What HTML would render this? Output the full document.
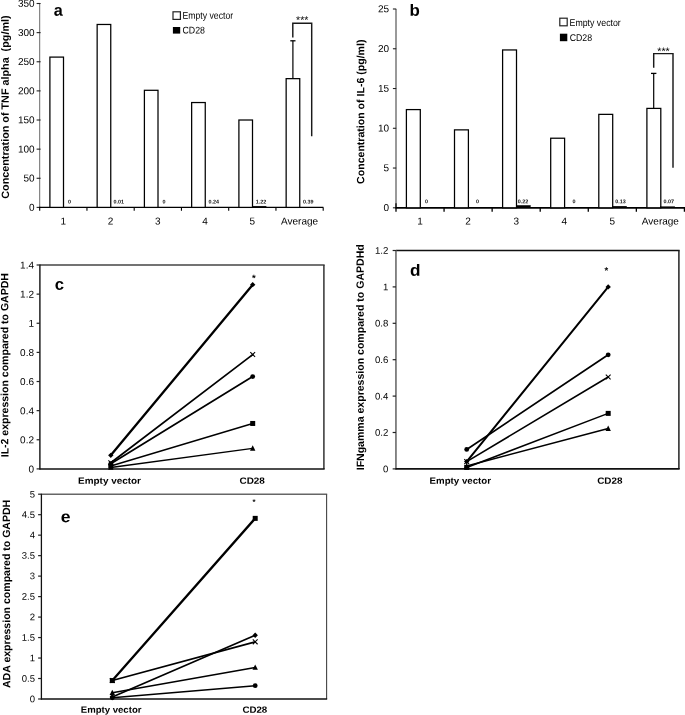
<!DOCTYPE html>
<html lang="en">
<head>
<meta charset="utf-8">
<title>Figure</title>
<style>
html,body{margin:0;padding:0;background:#fff;}
body{width:685px;height:715px;overflow:hidden;}
svg{display:block;}
svg text{font-family:"Liberation Sans",Arial,Helvetica,sans-serif;}
</style>
</head>
<body>
<svg width="685" height="715" viewBox="0 0 685 715">
<rect x="0" y="0" width="685" height="715" fill="#fff"/>
<line x1="39.70" y1="3.50" x2="39.70" y2="207.90" stroke="#444" stroke-width="0.8" />
<line x1="36.60" y1="207.40" x2="40.60" y2="207.40" stroke="#222" stroke-width="1.1" />
<text transform="translate(34.60,210.70) rotate(0.05)" font-size="10.0" text-anchor="end" font-weight="normal" fill="#000">0</text>
<line x1="36.60" y1="178.27" x2="40.60" y2="178.27" stroke="#222" stroke-width="1.1" />
<text transform="translate(34.60,181.57) rotate(0.05)" font-size="10.0" text-anchor="end" font-weight="normal" fill="#000">50</text>
<line x1="36.60" y1="149.14" x2="40.60" y2="149.14" stroke="#222" stroke-width="1.1" />
<text transform="translate(34.60,152.44) rotate(0.05)" font-size="10.0" text-anchor="end" font-weight="normal" fill="#000">100</text>
<line x1="36.60" y1="120.01" x2="40.60" y2="120.01" stroke="#222" stroke-width="1.1" />
<text transform="translate(34.60,123.31) rotate(0.05)" font-size="10.0" text-anchor="end" font-weight="normal" fill="#000">150</text>
<line x1="36.60" y1="90.89" x2="40.60" y2="90.89" stroke="#222" stroke-width="1.1" />
<text transform="translate(34.60,94.19) rotate(0.05)" font-size="10.0" text-anchor="end" font-weight="normal" fill="#000">200</text>
<line x1="36.60" y1="61.76" x2="40.60" y2="61.76" stroke="#222" stroke-width="1.1" />
<text transform="translate(34.60,65.06) rotate(0.05)" font-size="10.0" text-anchor="end" font-weight="normal" fill="#000">250</text>
<line x1="36.60" y1="32.63" x2="40.60" y2="32.63" stroke="#222" stroke-width="1.1" />
<text transform="translate(34.60,35.93) rotate(0.05)" font-size="10.0" text-anchor="end" font-weight="normal" fill="#000">300</text>
<line x1="36.60" y1="3.50" x2="40.60" y2="3.50" stroke="#222" stroke-width="1.1" />
<text transform="translate(34.60,6.80) rotate(0.05)" font-size="10.0" text-anchor="end" font-weight="normal" fill="#000">350</text>
<line x1="39.20" y1="207.40" x2="323.40" y2="207.40" stroke="#000" stroke-width="1.3" />
<line x1="39.70" y1="207.40" x2="39.70" y2="210.80" stroke="#000" stroke-width="1.1" />
<line x1="86.95" y1="207.40" x2="86.95" y2="210.80" stroke="#000" stroke-width="1.1" />
<line x1="134.20" y1="207.40" x2="134.20" y2="210.80" stroke="#000" stroke-width="1.1" />
<line x1="181.45" y1="207.40" x2="181.45" y2="210.80" stroke="#000" stroke-width="1.1" />
<line x1="228.70" y1="207.40" x2="228.70" y2="210.80" stroke="#000" stroke-width="1.1" />
<line x1="275.95" y1="207.40" x2="275.95" y2="210.80" stroke="#000" stroke-width="1.1" />
<line x1="323.20" y1="207.40" x2="323.20" y2="210.80" stroke="#000" stroke-width="1.1" />
<text transform="translate(63.33,224.40) rotate(0.05)" font-size="10.0" text-anchor="middle" font-weight="normal" fill="#000">1</text>
<text transform="translate(110.58,224.40) rotate(0.05)" font-size="10.0" text-anchor="middle" font-weight="normal" fill="#000">2</text>
<text transform="translate(157.82,224.40) rotate(0.05)" font-size="10.0" text-anchor="middle" font-weight="normal" fill="#000">3</text>
<text transform="translate(205.07,224.40) rotate(0.05)" font-size="10.0" text-anchor="middle" font-weight="normal" fill="#000">4</text>
<text transform="translate(252.32,224.40) rotate(0.05)" font-size="10.0" text-anchor="middle" font-weight="normal" fill="#000">5</text>
<text transform="translate(299.57,224.40) rotate(0.05)" font-size="10.0" text-anchor="middle" font-weight="normal" fill="#000">Average</text>
<rect x="49.90" y="57.10" width="13.60" height="150.30" fill="#fff" stroke="#000" stroke-width="1.25"/>
<text transform="translate(68.10,203.60) rotate(0.05)" font-size="5.4" text-anchor="start" font-weight="bold" fill="#111">0</text>
<rect x="97.15" y="24.47" width="13.60" height="182.93" fill="#fff" stroke="#000" stroke-width="1.25"/>
<text transform="translate(113.55,203.60) rotate(0.05)" font-size="5.4" text-anchor="start" font-weight="bold" fill="#111">0.01</text>
<rect x="144.40" y="90.30" width="13.60" height="117.10" fill="#fff" stroke="#000" stroke-width="1.25"/>
<text transform="translate(162.60,203.60) rotate(0.05)" font-size="5.4" text-anchor="start" font-weight="bold" fill="#111">0</text>
<rect x="191.65" y="102.54" width="13.60" height="104.86" fill="#fff" stroke="#000" stroke-width="1.25"/>
<text transform="translate(208.45,203.60) rotate(0.05)" font-size="5.4" text-anchor="start" font-weight="bold" fill="#111">0.24</text>
<rect x="238.90" y="120.01" width="13.60" height="87.39" fill="#fff" stroke="#000" stroke-width="1.25"/>
<rect x="252.50" y="206.18" width="13.60" height="1.22" fill="#000" stroke="#000" stroke-width="0.4"/>
<text transform="translate(255.70,203.60) rotate(0.05)" font-size="5.4" text-anchor="start" font-weight="bold" fill="#111">1.22</text>
<rect x="286.15" y="78.65" width="13.60" height="128.75" fill="#fff" stroke="#000" stroke-width="1.25"/>
<text transform="translate(302.95,203.60) rotate(0.05)" font-size="5.4" text-anchor="start" font-weight="bold" fill="#111">0.39</text>
<line x1="292.90" y1="40.80" x2="292.90" y2="78.60" stroke="#000" stroke-width="1.2" />
<line x1="290.30" y1="40.80" x2="295.50" y2="40.80" stroke="#000" stroke-width="1.3" />
<polyline points="292.80,37.50 292.80,23.20 311.70,23.20 311.70,136.30" fill="none" stroke="#1a1a1a" stroke-width="1.45"/>
<text transform="translate(302.30,23.60) rotate(0.05)" font-size="10.6" text-anchor="middle" font-weight="normal" fill="#000">***</text>
<rect x="173.00" y="11.80" width="7.40" height="7.60" fill="#fff" stroke="#222" stroke-width="1.2"/>
<rect x="172.90" y="27.00" width="7.30" height="6.60" fill="#000"/>
<text transform="translate(182.46,18.80) rotate(0.05)" font-size="9.8" text-anchor="start" font-weight="normal" fill="#000" textLength="50.7" lengthAdjust="spacingAndGlyphs">Empty vector</text>
<text transform="translate(182.46,33.60) rotate(0.05)" font-size="9.8" text-anchor="start" font-weight="normal" fill="#000" textLength="22.5" lengthAdjust="spacingAndGlyphs">CD28</text>
<text transform="translate(53.63,15.70) rotate(0.05)" font-size="16.4" text-anchor="start" font-weight="bold" fill="#000" textLength="9.0" lengthAdjust="spacingAndGlyphs">a</text>
<text transform="translate(8.80,107.10) rotate(-90.05)" font-size="10.6" text-anchor="middle" font-weight="bold" textLength="183.3" lengthAdjust="spacingAndGlyphs">Concentration of TNF alpha&#160; (pg/ml)</text>
<line x1="396.00" y1="9.00" x2="396.00" y2="208.30" stroke="#555" stroke-width="1.2" />
<line x1="392.90" y1="207.80" x2="396.20" y2="207.80" stroke="#222" stroke-width="1.1" />
<text transform="translate(389.00,211.10) rotate(0.05)" font-size="10.0" text-anchor="end" font-weight="normal" fill="#000">0</text>
<line x1="392.90" y1="168.04" x2="396.20" y2="168.04" stroke="#222" stroke-width="1.1" />
<text transform="translate(389.00,171.34) rotate(0.05)" font-size="10.0" text-anchor="end" font-weight="normal" fill="#000">5</text>
<line x1="392.90" y1="128.28" x2="396.20" y2="128.28" stroke="#222" stroke-width="1.1" />
<text transform="translate(389.00,131.58) rotate(0.05)" font-size="10.0" text-anchor="end" font-weight="normal" fill="#000">10</text>
<line x1="392.90" y1="88.52" x2="396.20" y2="88.52" stroke="#222" stroke-width="1.1" />
<text transform="translate(389.00,91.82) rotate(0.05)" font-size="10.0" text-anchor="end" font-weight="normal" fill="#000">15</text>
<line x1="392.90" y1="48.76" x2="396.20" y2="48.76" stroke="#222" stroke-width="1.1" />
<text transform="translate(389.00,52.06) rotate(0.05)" font-size="10.0" text-anchor="end" font-weight="normal" fill="#000">20</text>
<line x1="392.90" y1="9.00" x2="396.20" y2="9.00" stroke="#222" stroke-width="1.1" />
<text transform="translate(389.00,12.30) rotate(0.05)" font-size="10.0" text-anchor="end" font-weight="normal" fill="#000">25</text>
<line x1="395.50" y1="207.80" x2="685.00" y2="207.80" stroke="#000" stroke-width="1.7" />
<line x1="396.00" y1="203.30" x2="396.00" y2="207.80" stroke="#000" stroke-width="1.2" />
<line x1="396.00" y1="207.80" x2="396.00" y2="211.70" stroke="#000" stroke-width="1.3" />
<line x1="444.07" y1="207.80" x2="444.07" y2="211.70" stroke="#000" stroke-width="1.3" />
<line x1="492.14" y1="207.80" x2="492.14" y2="211.70" stroke="#000" stroke-width="1.3" />
<line x1="540.21" y1="207.80" x2="540.21" y2="211.70" stroke="#000" stroke-width="1.3" />
<line x1="588.28" y1="207.80" x2="588.28" y2="211.70" stroke="#000" stroke-width="1.3" />
<line x1="636.35" y1="207.80" x2="636.35" y2="211.70" stroke="#000" stroke-width="1.3" />
<line x1="684.42" y1="207.80" x2="684.42" y2="211.70" stroke="#000" stroke-width="1.3" />
<text transform="translate(420.04,224.60) rotate(0.05)" font-size="10.0" text-anchor="middle" font-weight="normal" fill="#000">1</text>
<text transform="translate(468.11,224.60) rotate(0.05)" font-size="10.0" text-anchor="middle" font-weight="normal" fill="#000">2</text>
<text transform="translate(516.17,224.60) rotate(0.05)" font-size="10.0" text-anchor="middle" font-weight="normal" fill="#000">3</text>
<text transform="translate(564.25,224.60) rotate(0.05)" font-size="10.0" text-anchor="middle" font-weight="normal" fill="#000">4</text>
<text transform="translate(612.32,224.60) rotate(0.05)" font-size="10.0" text-anchor="middle" font-weight="normal" fill="#000">5</text>
<text transform="translate(660.38,224.60) rotate(0.05)" font-size="10.0" text-anchor="middle" font-weight="normal" fill="#000">Average</text>
<rect x="406.40" y="109.59" width="13.90" height="98.21" fill="#fff" stroke="#000" stroke-width="1.25"/>
<text transform="translate(424.90,203.30) rotate(0.05)" font-size="5.4" text-anchor="start" font-weight="bold" fill="#111">0</text>
<rect x="454.50" y="129.87" width="13.90" height="77.93" fill="#fff" stroke="#000" stroke-width="1.25"/>
<text transform="translate(475.90,203.30) rotate(0.05)" font-size="5.4" text-anchor="start" font-weight="bold" fill="#111">0</text>
<rect x="502.60" y="49.95" width="13.90" height="157.85" fill="#fff" stroke="#000" stroke-width="1.25"/>
<rect x="516.50" y="205.39" width="13.90" height="2.41" fill="#000" stroke="#000" stroke-width="0.4"/>
<text transform="translate(517.70,203.30) rotate(0.05)" font-size="5.4" text-anchor="start" font-weight="bold" fill="#111">0.22</text>
<rect x="550.70" y="138.22" width="13.90" height="69.58" fill="#fff" stroke="#000" stroke-width="1.25"/>
<text transform="translate(572.60,203.30) rotate(0.05)" font-size="5.4" text-anchor="start" font-weight="bold" fill="#111">0</text>
<rect x="598.80" y="114.36" width="13.90" height="93.44" fill="#fff" stroke="#000" stroke-width="1.25"/>
<rect x="612.70" y="206.21" width="13.90" height="1.59" fill="#000" stroke="#000" stroke-width="0.4"/>
<text transform="translate(615.30,203.30) rotate(0.05)" font-size="5.4" text-anchor="start" font-weight="bold" fill="#111">0.13</text>
<rect x="646.90" y="108.40" width="13.90" height="99.40" fill="#fff" stroke="#000" stroke-width="1.25"/>
<rect x="660.80" y="206.70" width="13.90" height="1.10" fill="#000" stroke="#000" stroke-width="0.4"/>
<text transform="translate(663.60,203.30) rotate(0.05)" font-size="5.4" text-anchor="start" font-weight="bold" fill="#111">0.07</text>
<line x1="653.70" y1="73.40" x2="653.70" y2="108.50" stroke="#000" stroke-width="1.2" />
<line x1="651.00" y1="73.40" x2="656.40" y2="73.40" stroke="#000" stroke-width="1.3" />
<polyline points="653.70,67.80 653.70,53.60 673.00,53.60 673.00,167.70" fill="none" stroke="#1a1a1a" stroke-width="1.45"/>
<text transform="translate(663.50,54.70) rotate(0.05)" font-size="10.6" text-anchor="middle" font-weight="normal" fill="#000">***</text>
<rect x="559.80" y="18.20" width="7.40" height="7.60" fill="#fff" stroke="#222" stroke-width="1.2"/>
<rect x="559.90" y="33.70" width="7.40" height="7.50" fill="#000"/>
<text transform="translate(569.56,25.90) rotate(0.05)" font-size="9.8" text-anchor="start" font-weight="normal" fill="#000" textLength="51.2" lengthAdjust="spacingAndGlyphs">Empty vector</text>
<text transform="translate(569.66,41.10) rotate(0.05)" font-size="9.8" text-anchor="start" font-weight="normal" fill="#000" textLength="22.4" lengthAdjust="spacingAndGlyphs">CD28</text>
<text transform="translate(409.43,15.70) rotate(0.05)" font-size="16.4" text-anchor="start" font-weight="bold" fill="#000" textLength="10.3" lengthAdjust="spacingAndGlyphs">b</text>
<text transform="translate(364.20,111.75) rotate(-90.05)" font-size="10.6" text-anchor="middle" font-weight="bold" textLength="144.3" lengthAdjust="spacingAndGlyphs">Concentration of IL-6 (pg/ml)</text>
<line x1="39.90" y1="265.00" x2="324.65" y2="265.00" stroke="#444" stroke-width="1.5" />
<line x1="323.90" y1="265.00" x2="323.90" y2="468.90" stroke="#333" stroke-width="1.5" />
<line x1="39.90" y1="264.50" x2="39.90" y2="469.50" stroke="#111" stroke-width="1.4" />
<line x1="39.40" y1="468.90" x2="324.65" y2="468.90" stroke="#111" stroke-width="1.5" />
<line x1="36.60" y1="468.90" x2="39.90" y2="468.90" stroke="#222" stroke-width="1.2" />
<text transform="translate(34.00,472.40) rotate(0.05)" font-size="10.0" text-anchor="end" font-weight="normal" fill="#000">0</text>
<line x1="36.60" y1="439.77" x2="39.90" y2="439.77" stroke="#222" stroke-width="1.2" />
<text transform="translate(34.00,443.27) rotate(0.05)" font-size="10.0" text-anchor="end" font-weight="normal" fill="#000">0.2</text>
<line x1="36.60" y1="410.64" x2="39.90" y2="410.64" stroke="#222" stroke-width="1.2" />
<text transform="translate(34.00,414.14) rotate(0.05)" font-size="10.0" text-anchor="end" font-weight="normal" fill="#000">0.4</text>
<line x1="36.60" y1="381.51" x2="39.90" y2="381.51" stroke="#222" stroke-width="1.2" />
<text transform="translate(34.00,385.01) rotate(0.05)" font-size="10.0" text-anchor="end" font-weight="normal" fill="#000">0.6</text>
<line x1="36.60" y1="352.39" x2="39.90" y2="352.39" stroke="#222" stroke-width="1.2" />
<text transform="translate(34.00,355.89) rotate(0.05)" font-size="10.0" text-anchor="end" font-weight="normal" fill="#000">0.8</text>
<line x1="36.60" y1="323.26" x2="39.90" y2="323.26" stroke="#222" stroke-width="1.2" />
<text transform="translate(34.00,326.76) rotate(0.05)" font-size="10.0" text-anchor="end" font-weight="normal" fill="#000">1</text>
<line x1="36.60" y1="294.13" x2="39.90" y2="294.13" stroke="#222" stroke-width="1.2" />
<text transform="translate(34.00,297.63) rotate(0.05)" font-size="10.0" text-anchor="end" font-weight="normal" fill="#000">1.2</text>
<line x1="36.60" y1="265.00" x2="39.90" y2="265.00" stroke="#222" stroke-width="1.2" />
<text transform="translate(34.00,268.50) rotate(0.05)" font-size="10.0" text-anchor="end" font-weight="normal" fill="#000">1.4</text>
<line x1="110.80" y1="455.36" x2="252.70" y2="284.66" stroke="#000" stroke-width="2.3" stroke-linecap="round"/>
<polygon points="108.10,455.36 110.80,452.66 113.50,455.36 110.80,458.06" fill="#000"/>
<polygon points="250.00,284.66 252.70,281.96 255.40,284.66 252.70,287.36" fill="#000"/>
<line x1="110.80" y1="462.78" x2="252.70" y2="354.57" stroke="#000" stroke-width="1.7" stroke-linecap="round"/>
<path d="M108.40,460.38 L113.20,465.18 M108.40,465.18 L113.20,460.38" stroke="#000" stroke-width="1.1" fill="none"/>
<path d="M250.30,352.17 L255.10,356.97 M250.30,356.97 L255.10,352.17" stroke="#000" stroke-width="1.1" fill="none"/>
<line x1="110.80" y1="463.66" x2="252.70" y2="376.56" stroke="#000" stroke-width="1.7" stroke-linecap="round"/>
<circle cx="110.80" cy="463.66" r="2.4" fill="#000"/>
<circle cx="252.70" cy="376.56" r="2.4" fill="#000"/>
<line x1="110.80" y1="465.99" x2="252.70" y2="423.46" stroke="#000" stroke-width="1.4" stroke-linecap="round"/>
<rect x="108.30" y="463.49" width="5.00" height="5.00" fill="#000"/>
<rect x="250.20" y="420.96" width="5.00" height="5.00" fill="#000"/>
<line x1="110.80" y1="467.44" x2="252.70" y2="448.36" stroke="#000" stroke-width="1.4" stroke-linecap="round"/>
<polygon points="108.10,469.84 113.50,469.84 110.80,464.44" fill="#000"/>
<polygon points="250.00,450.76 255.40,450.76 252.70,445.36" fill="#000"/>
<text transform="translate(253.80,281.20) rotate(0.05)" font-size="9.5" text-anchor="middle" font-weight="bold" fill="#000">*</text>
<text transform="translate(78.08,483.80) rotate(0.05)" font-size="9.1" text-anchor="start" font-weight="bold" fill="#000" textLength="62.9" lengthAdjust="spacingAndGlyphs">Empty vector</text>
<text transform="translate(239.48,483.80) rotate(0.05)" font-size="9.1" text-anchor="start" font-weight="bold" fill="#000" textLength="25.4" lengthAdjust="spacingAndGlyphs">CD28</text>
<text transform="translate(54.63,289.80) rotate(0.05)" font-size="16.4" text-anchor="start" font-weight="bold" fill="#000" textLength="9.3" lengthAdjust="spacingAndGlyphs">c</text>
<text transform="translate(8.30,365.20) rotate(-90.05)" font-size="10.6" text-anchor="middle" font-weight="bold" textLength="184.2" lengthAdjust="spacingAndGlyphs">IL-2 expression compared to GAPDH</text>
<line x1="395.95" y1="250.50" x2="679.65" y2="250.50" stroke="#111" stroke-width="1.5" />
<line x1="678.90" y1="250.50" x2="678.90" y2="468.90" stroke="#222" stroke-width="1.5" />
<line x1="395.95" y1="250.00" x2="395.95" y2="469.50" stroke="#555" stroke-width="1.4" />
<line x1="395.45" y1="468.90" x2="679.65" y2="468.90" stroke="#111" stroke-width="1.7" />
<line x1="392.65" y1="468.90" x2="395.95" y2="468.90" stroke="#222" stroke-width="1.2" />
<text transform="translate(388.30,472.20) rotate(0.05)" font-size="9.6" text-anchor="end" font-weight="normal" fill="#000">0</text>
<line x1="392.65" y1="432.50" x2="395.95" y2="432.50" stroke="#222" stroke-width="1.2" />
<text transform="translate(388.30,435.80) rotate(0.05)" font-size="9.6" text-anchor="end" font-weight="normal" fill="#000">0.2</text>
<line x1="392.65" y1="396.10" x2="395.95" y2="396.10" stroke="#222" stroke-width="1.2" />
<text transform="translate(388.30,399.40) rotate(0.05)" font-size="9.6" text-anchor="end" font-weight="normal" fill="#000">0.4</text>
<line x1="392.65" y1="359.70" x2="395.95" y2="359.70" stroke="#222" stroke-width="1.2" />
<text transform="translate(388.30,363.00) rotate(0.05)" font-size="9.6" text-anchor="end" font-weight="normal" fill="#000">0.6</text>
<line x1="392.65" y1="323.30" x2="395.95" y2="323.30" stroke="#222" stroke-width="1.2" />
<text transform="translate(388.30,326.60) rotate(0.05)" font-size="9.6" text-anchor="end" font-weight="normal" fill="#000">0.8</text>
<line x1="392.65" y1="286.90" x2="395.95" y2="286.90" stroke="#222" stroke-width="1.2" />
<text transform="translate(388.30,290.20) rotate(0.05)" font-size="9.6" text-anchor="end" font-weight="normal" fill="#000">1</text>
<line x1="392.65" y1="250.50" x2="395.95" y2="250.50" stroke="#222" stroke-width="1.2" />
<text transform="translate(388.30,253.80) rotate(0.05)" font-size="9.6" text-anchor="end" font-weight="normal" fill="#000">1.2</text>
<line x1="466.70" y1="461.62" x2="608.20" y2="286.90" stroke="#000" stroke-width="2.0" stroke-linecap="round"/>
<polygon points="464.00,461.62 466.70,458.92 469.40,461.62 466.70,464.32" fill="#000"/>
<polygon points="605.50,286.90 608.20,284.20 610.90,286.90 608.20,289.60" fill="#000"/>
<line x1="466.70" y1="449.43" x2="608.20" y2="354.79" stroke="#000" stroke-width="1.7" stroke-linecap="round"/>
<circle cx="466.70" cy="449.43" r="2.4" fill="#000"/>
<circle cx="608.20" cy="354.79" r="2.4" fill="#000"/>
<line x1="466.70" y1="461.62" x2="608.20" y2="376.99" stroke="#000" stroke-width="1.6" stroke-linecap="round"/>
<path d="M464.30,459.22 L469.10,464.02 M464.30,464.02 L469.10,459.22" stroke="#000" stroke-width="1.1" fill="none"/>
<path d="M605.80,374.59 L610.60,379.39 M605.80,379.39 L610.60,374.59" stroke="#000" stroke-width="1.1" fill="none"/>
<line x1="466.70" y1="467.44" x2="608.20" y2="413.39" stroke="#000" stroke-width="1.5" stroke-linecap="round"/>
<rect x="464.20" y="464.94" width="5.00" height="5.00" fill="#000"/>
<rect x="605.70" y="410.89" width="5.00" height="5.00" fill="#000"/>
<line x1="466.70" y1="465.99" x2="608.20" y2="428.50" stroke="#000" stroke-width="1.5" stroke-linecap="round"/>
<polygon points="464.00,468.39 469.40,468.39 466.70,462.99" fill="#000"/>
<polygon points="605.50,430.90 610.90,430.90 608.20,425.50" fill="#000"/>
<text transform="translate(606.30,273.70) rotate(0.05)" font-size="9.5" text-anchor="middle" font-weight="bold" fill="#000">*</text>
<text transform="translate(429.58,483.80) rotate(0.05)" font-size="9.1" text-anchor="start" font-weight="bold" fill="#000" textLength="61.4" lengthAdjust="spacingAndGlyphs">Empty vector</text>
<text transform="translate(597.18,483.80) rotate(0.05)" font-size="9.1" text-anchor="start" font-weight="bold" fill="#000" textLength="25.3" lengthAdjust="spacingAndGlyphs">CD28</text>
<text transform="translate(410.03,275.70) rotate(0.05)" font-size="16.4" text-anchor="start" font-weight="bold" fill="#000" textLength="10.5" lengthAdjust="spacingAndGlyphs">d</text>
<text transform="translate(363.80,357.30) rotate(-90.05)" font-size="10.6" text-anchor="middle" font-weight="bold" textLength="226.0" lengthAdjust="spacingAndGlyphs">IFNgamma expression compared to GAPDHd</text>
<line x1="41.40" y1="494.20" x2="327.15" y2="494.20" stroke="#666" stroke-width="1.5" />
<line x1="326.60" y1="494.20" x2="326.60" y2="699.00" stroke="#444" stroke-width="1.1" />
<line x1="41.40" y1="493.70" x2="41.40" y2="699.60" stroke="#111" stroke-width="1.3" />
<line x1="40.90" y1="699.00" x2="327.15" y2="699.00" stroke="#111" stroke-width="1.5" />
<line x1="38.10" y1="699.00" x2="41.40" y2="699.00" stroke="#222" stroke-width="1.2" />
<text transform="translate(35.00,702.20) rotate(0.05)" font-size="9.5" text-anchor="end" font-weight="normal" fill="#000">0</text>
<line x1="38.10" y1="678.52" x2="41.40" y2="678.52" stroke="#222" stroke-width="1.2" />
<text transform="translate(35.00,681.72) rotate(0.05)" font-size="9.5" text-anchor="end" font-weight="normal" fill="#000">0.5</text>
<line x1="38.10" y1="658.04" x2="41.40" y2="658.04" stroke="#222" stroke-width="1.2" />
<text transform="translate(35.00,661.24) rotate(0.05)" font-size="9.5" text-anchor="end" font-weight="normal" fill="#000">1</text>
<line x1="38.10" y1="637.56" x2="41.40" y2="637.56" stroke="#222" stroke-width="1.2" />
<text transform="translate(35.00,640.76) rotate(0.05)" font-size="9.5" text-anchor="end" font-weight="normal" fill="#000">1.5</text>
<line x1="38.10" y1="617.08" x2="41.40" y2="617.08" stroke="#222" stroke-width="1.2" />
<text transform="translate(35.00,620.28) rotate(0.05)" font-size="9.5" text-anchor="end" font-weight="normal" fill="#000">2</text>
<line x1="38.10" y1="596.60" x2="41.40" y2="596.60" stroke="#222" stroke-width="1.2" />
<text transform="translate(35.00,599.80) rotate(0.05)" font-size="9.5" text-anchor="end" font-weight="normal" fill="#000">2.5</text>
<line x1="38.10" y1="576.12" x2="41.40" y2="576.12" stroke="#222" stroke-width="1.2" />
<text transform="translate(35.00,579.32) rotate(0.05)" font-size="9.5" text-anchor="end" font-weight="normal" fill="#000">3</text>
<line x1="38.10" y1="555.64" x2="41.40" y2="555.64" stroke="#222" stroke-width="1.2" />
<text transform="translate(35.00,558.84) rotate(0.05)" font-size="9.5" text-anchor="end" font-weight="normal" fill="#000">3.5</text>
<line x1="38.10" y1="535.16" x2="41.40" y2="535.16" stroke="#222" stroke-width="1.2" />
<text transform="translate(35.00,538.36) rotate(0.05)" font-size="9.5" text-anchor="end" font-weight="normal" fill="#000">4</text>
<line x1="38.10" y1="514.68" x2="41.40" y2="514.68" stroke="#222" stroke-width="1.2" />
<text transform="translate(35.00,517.88) rotate(0.05)" font-size="9.5" text-anchor="end" font-weight="normal" fill="#000">4.5</text>
<line x1="38.10" y1="494.20" x2="41.40" y2="494.20" stroke="#222" stroke-width="1.2" />
<text transform="translate(35.00,497.40) rotate(0.05)" font-size="9.5" text-anchor="end" font-weight="normal" fill="#000">5</text>
<line x1="112.30" y1="680.57" x2="255.20" y2="518.37" stroke="#000" stroke-width="2.3" stroke-linecap="round"/>
<rect x="109.80" y="678.07" width="5.00" height="5.00" fill="#000"/>
<rect x="252.70" y="515.87" width="5.00" height="5.00" fill="#000"/>
<line x1="112.30" y1="680.57" x2="255.20" y2="641.86" stroke="#000" stroke-width="1.6" stroke-linecap="round"/>
<path d="M109.90,678.17 L114.70,682.97 M109.90,682.97 L114.70,678.17" stroke="#000" stroke-width="1.1" fill="none"/>
<path d="M252.80,639.46 L257.60,644.26 M252.80,644.26 L257.60,639.46" stroke="#000" stroke-width="1.1" fill="none"/>
<line x1="112.30" y1="696.95" x2="255.20" y2="635.31" stroke="#000" stroke-width="1.7" stroke-linecap="round"/>
<polygon points="109.60,696.95 112.30,694.25 115.00,696.95 112.30,699.65" fill="#000"/>
<polygon points="252.50,635.31 255.20,632.61 257.90,635.31 255.20,638.01" fill="#000"/>
<line x1="112.30" y1="692.65" x2="255.20" y2="667.46" stroke="#000" stroke-width="1.5" stroke-linecap="round"/>
<polygon points="109.60,695.05 115.00,695.05 112.30,689.65" fill="#000"/>
<polygon points="252.50,669.86 257.90,669.86 255.20,664.46" fill="#000"/>
<line x1="112.30" y1="697.77" x2="255.20" y2="685.69" stroke="#000" stroke-width="1.4" stroke-linecap="round"/>
<circle cx="112.30" cy="697.77" r="2.4" fill="#000"/>
<circle cx="255.20" cy="685.69" r="2.4" fill="#000"/>
<text transform="translate(254.00,504.40) rotate(0.05)" font-size="7.8" text-anchor="middle" font-weight="bold" fill="#000">*</text>
<text transform="translate(80.78,712.70) rotate(0.05)" font-size="9.1" text-anchor="start" font-weight="bold" fill="#000" textLength="60.7" lengthAdjust="spacingAndGlyphs">Empty vector</text>
<text transform="translate(242.38,712.70) rotate(0.05)" font-size="9.1" text-anchor="start" font-weight="bold" fill="#000" textLength="24.9" lengthAdjust="spacingAndGlyphs">CD28</text>
<text transform="translate(60.63,522.30) rotate(0.05)" font-size="16.4" text-anchor="start" font-weight="bold" fill="#000" textLength="9.8" lengthAdjust="spacingAndGlyphs">e</text>
<text transform="translate(10.10,593.90) rotate(-90.05)" font-size="10.6" text-anchor="middle" font-weight="bold" textLength="188.2" lengthAdjust="spacingAndGlyphs">ADA expression compared to GAPDH</text>
</svg>
</body>
</html>
